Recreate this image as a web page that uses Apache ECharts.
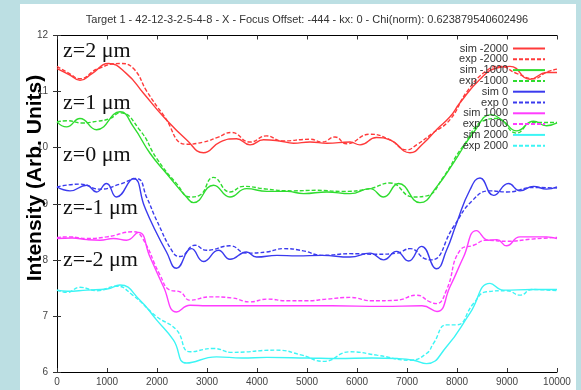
<!DOCTYPE html>
<html><head><meta charset="utf-8">
<script src="https://cdn.jsdelivr.net/npm/echarts@6/dist/echarts.min.js"></script>
<style>
html,body{margin:0;padding:0;background:#bcdfe3;width:581px;height:390px;overflow:hidden;}
#paper{position:absolute;left:20px;top:4px;width:556px;height:386px;background:#fff;}
#chart{position:absolute;left:0;top:0;width:581px;height:390px;}
</style></head>
<body><div id="paper"></div><div id="chart"></div>
<script>
// ---- data (x position, intensity) ----
const seriesNames = ['sim -2000','exp -2000','sim -1000','exp -1000','sim 0','exp 0','sim 1000','exp 1000','sim 2000','exp 2000'];
const xTicks = [0,1000,2000,3000,4000,5000,6000,7000,8000,9000,10000];
const yTicks = [6,7,8,9,10,11,12];
const simM2000 = [[0,11.41],[250,11.30],[460,11.20],[700,11.32],[1030,11.50],[1390,11.32],[1730,10.97],[2130,10.55],[2590,10.14],[2930,9.91],[3260,10.10],[3590,10.16],[3860,10.05],[4130,10.14],[4450,10.12],[4730,10.08],[5060,10.10],[5400,10.08],[5860,10.10],[6060,10.05],[6390,10.18],[6660,10.14],[7060,9.91],[7330,10.08],[7600,10.33],[7860,10.55],[8060,10.80],[8460,11.22],[8790,11.42],[9060,11.45],[9460,11.22],[9790,11.34],[10000,11.34]];
const expM2000 = [[0,11.45],[250,11.32],[460,11.23],[800,11.40],[1260,11.50],[1530,11.41],[1800,11.00],[2130,10.58],[2590,10.06],[2930,10.10],[3200,10.18],[3490,10.27],[3860,10.10],[4190,10.21],[4500,10.12],[5060,10.15],[5300,10.10],[5560,10.19],[5790,10.07],[6260,10.24],[6660,10.14],[6990,9.96],[7190,10.05],[7500,10.25],[7860,10.50],[8200,11.00],[8600,11.38],[8860,11.45],[9200,11.32],[9530,11.23],[9800,11.35],[10000,11.40]];
const simM1000 = [[0,10.46],[190,10.37],[460,10.52],[790,10.32],[1260,10.64],[1530,10.37],[1860,9.90],[2190,9.54],[2590,9.12],[2730,9.02],[3130,9.33],[3460,9.12],[3790,9.27],[4200,9.22],[4600,9.22],[4930,9.18],[5400,9.21],[5860,9.18],[6260,9.27],[6530,9.12],[6830,9.36],[7260,9.02],[7600,9.31],[7930,9.73],[8330,10.27],[8690,10.59],[8930,10.47],[9190,10.30],[9530,10.47],[9790,10.39],[10000,10.44]];
const expM1000 = [[0,10.46],[200,10.48],[500,10.44],[800,10.47],[1060,10.52],[1260,10.62],[1660,10.31],[2000,9.80],[2400,9.35],[2660,9.12],[2850,9.15],[3130,9.47],[3460,9.21],[3730,9.31],[4200,9.26],[4700,9.23],[5200,9.24],[5700,9.22],[6260,9.27],[6660,9.37],[7130,9.12],[7390,9.14],[7730,9.48],[8100,10.00],[8590,10.50],[8800,10.52],[9190,10.26],[9500,10.45],[10000,10.45]];
const sim0 = [[0,9.30],[260,9.23],[590,9.33],[790,9.21],[990,9.36],[1190,9.12],[1530,9.45],[1750,8.95],[1930,8.59],[2190,8.14],[2390,7.85],[2690,8.20],[2930,7.97],[3230,8.17],[3460,8.01],[3790,8.14],[3990,8.05],[4400,8.08],[4800,8.07],[5300,8.08],[5860,8.05],[6260,8.12],[6530,8.00],[6790,8.15],[7030,7.98],[7290,8.24],[7590,7.84],[7790,8.17],[7990,8.65],[8260,9.25],[8460,9.46],[8730,9.15],[9030,9.36],[9260,9.23],[9530,9.31],[9790,9.26],[10000,9.30]];
const exp0 = [[0,9.30],[460,9.35],[860,9.26],[1260,9.35],[1590,9.45],[1800,9.10],[1990,8.71],[2330,8.12],[2460,8.06],[2760,8.26],[2990,8.17],[3460,8.25],[3790,8.12],[4190,8.14],[4530,8.20],[4930,8.16],[5300,8.08],[5860,8.11],[6400,8.10],[6800,8.12],[7060,8.20],[7390,8.01],[7490,8.00],[7930,8.59],[8300,9.05],[8660,9.23],[9000,9.21],[9530,9.29],[10000,9.28]];
const sim1000 = [[0,8.38],[300,8.39],[600,8.36],[860,8.35],[1130,8.38],[1390,8.35],[1630,8.49],[1860,8.05],[2130,7.52],[2390,7.07],[2660,7.19],[3000,7.18],[3500,7.18],[4500,7.18],[5500,7.18],[6500,7.17],[7300,7.18],[7600,7.08],[7860,7.52],[8130,8.05],[8390,8.52],[8630,8.35],[8800,8.36],[8990,8.25],[9260,8.41],[9790,8.41],[10000,8.38]];
const exp1000 = [[0,8.40],[240,8.41],[600,8.38],[1000,8.41],[1530,8.50],[1700,8.40],[2060,7.73],[2260,7.46],[2460,7.43],[2660,7.28],[3060,7.34],[3500,7.32],[3860,7.25],[4200,7.30],[4600,7.27],[5000,7.27],[5400,7.30],[5860,7.33],[6300,7.27],[6800,7.28],[7190,7.37],[7460,7.25],[7590,7.22],[7790,7.46],[8060,8.17],[8330,8.26],[8590,8.35],[9000,8.33],[9500,8.37],[10000,8.40]];
const sim2000 = [[0,7.46],[200,7.44],[600,7.46],[1000,7.48],[1260,7.55],[1660,7.28],[1990,6.93],[2330,6.57],[2590,6.16],[3190,6.27],[3700,6.25],[4200,6.26],[5000,6.25],[5600,6.24],[6300,6.25],[6800,6.24],[7130,6.21],[7390,6.15],[7790,6.45],[8260,7.05],[8660,7.58],[8930,7.46],[9500,7.47],[10000,7.47]];
const exp2000 = [[0,7.46],[200,7.42],[460,7.51],[800,7.45],[1190,7.53],[1500,7.38],[1990,6.99],[2390,6.75],[2660,6.36],[3130,6.42],[3500,6.35],[4390,6.39],[4900,6.30],[5330,6.19],[5860,6.36],[6400,6.30],[7060,6.21],[7390,6.33],[7530,6.51],[7790,6.84],[7990,6.84],[8330,7.22],[8590,7.43],[9000,7.45],[9260,7.37],[9500,7.47],[10000,7.45]];
const zLabels = ['z=2 μm','z=1 μm','z=0 μm','z=-1 μm','z=-2 μm'];
const titleText = 'Target 1 - 42-12-3-2-5-4-8 - X - Focus Offset: -444 - kx: 0 - Chi(norm): 0.623879540602496';
const yName = 'Intensity (Arb. Units)';

const allData = [simM2000,expM2000,simM1000,expM1000,sim0,exp0,sim1000,exp1000,sim2000,exp2000];
const colors = ['#ff3a3a','#ff3a3a','#2fdc2f','#2fdc2f','#3a3aee','#3a3aee','#ff3cff','#ff3cff','#3cf5f5','#3cf5f5'];

const chart = echarts.init(document.getElementById('chart'), null, {renderer:'canvas'});
const font = "'Liberation Sans', Arial, sans-serif";
const series = allData.map((d,i)=>({
  name: seriesNames[i], type:'line', data:d, smooth:0.5, symbol:'none',
  xAxisIndex:0, yAxisIndex:0,
  lineStyle:{color:colors[i], width:1.4, type: i%2 ? [4,2] : 'solid'},
  itemStyle:{color:colors[i]}, emphasis:{disabled:true}
}));
const axCommon = {
  axisLine:{show:true, lineStyle:{color:'#000', width:1}},
  axisTick:{show:true, inside:true, length:4, lineStyle:{color:'#333'}},
  splitLine:{show:false}
};
const zY = [51.5, 103.5, 155, 208.5, 260];
const option = {
  animation:false,
  grid:{left:57, right:24, top:35.5, bottom:18},
  xAxis:[
    Object.assign({type:'value', min:0, max:10000, interval:1000, position:'bottom',
      axisLabel:{fontSize:10, color:'#444', fontFamily:font, margin:5, formatter:(v)=>String(v)}}, axCommon),
    Object.assign({type:'value', min:0, max:10000, interval:1000, position:'top',
      axisLabel:{show:false}}, axCommon)
  ],
  yAxis:[
    Object.assign({type:'value', min:6, max:12, interval:1, position:'left',
      axisLabel:{fontSize:10, color:'#444', fontFamily:font, margin:9}}, axCommon),
    Object.assign({type:'value', min:6, max:12, interval:1, position:'right',
      axisLabel:{show:false}}, axCommon)
  ],
  legend:{
    orient:'vertical', right:30, top:38, align:'right', selectedMode:false,
    itemWidth:32, itemHeight:8, itemGap:-0.2,
    textStyle:{fontSize:11, color:'#333', fontFamily:font},
    itemStyle:{opacity:0},
    data:seriesNames
  },
  graphic:[
    {type:'text', x:307, y:20, style:{text:titleText, font:"11px 'Liberation Sans', Arial, sans-serif", fill:'#333', textAlign:'center', textVerticalAlign:'middle'}},
    {type:'text', x:35, y:178, rotation:Math.PI/2, style:{text:yName, font:"bold 21px 'Liberation Sans', Arial, sans-serif", fill:'#000', textAlign:'center', textVerticalAlign:'middle'}, z:100}
  ].concat(zLabels.map((t,i)=>({type:'text', x:63, y:zY[i], style:{text:t, font:"22px 'Liberation Serif', 'Times New Roman', serif", fill:'#111', textAlign:'left', textVerticalAlign:'middle'}, z:100}))),
  series: series
};
chart.setOption(option);
</script></body></html>
